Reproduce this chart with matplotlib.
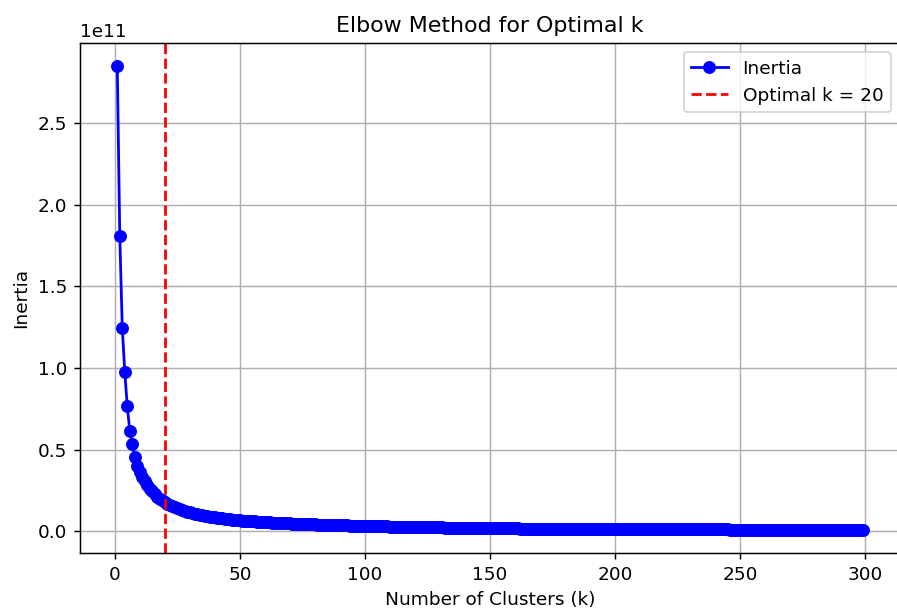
import matplotlib
matplotlib.use("Agg")
import matplotlib.pyplot as plt

# inertia per k, in units of 1e9
inertia_e9 = [
    285, 181, 124.7, 97.5, 76.5, 61.5, 53.5, 45.5, 40.0, 36.5,
    33.0, 30.5, 28.2, 26.0, 24.3, 22.6, 21.2, 19.9, 18.8, 17.7,
    16.8, 16.0, 15.3, 14.6, 14.0, 13.4, 12.9, 12.4, 11.9, 11.5,
    11.1, 10.7, 10.4, 10.0, 9.7, 9.4, 9.2, 8.9, 8.7, 8.4,
    8.2, 8.0, 7.8, 7.6, 7.4, 7.2, 7.1, 6.9, 6.8, 6.6,
    6.5, 6.4, 6.2, 6.1, 6.0, 5.9, 5.8, 5.7, 5.6, 5.5,
    5.4, 5.3, 5.2, 5.2, 5.1, 5.0, 4.9, 4.9, 4.8, 4.7,
    4.6, 4.6, 4.5, 4.4, 4.4, 4.3, 4.3, 4.2, 4.2, 4.1,
    4.0, 4.0, 3.9, 3.9, 3.8, 3.8, 3.7, 3.7, 3.6, 3.6,
    3.5, 3.5, 3.5, 3.4, 3.4, 3.3, 3.3, 3.3, 3.2, 3.2,
    3.1, 3.1, 3.1, 3.0, 3.0, 3.0, 2.9, 2.9, 2.9, 2.8,
    2.8, 2.8, 2.7, 2.7, 2.7, 2.7, 2.6, 2.6, 2.6, 2.5,
    2.5, 2.5, 2.5, 2.4, 2.4, 2.4, 2.4, 2.3, 2.3, 2.3,
    2.3, 2.2, 2.2, 2.2, 2.2, 2.2, 2.1, 2.1, 2.1, 2.1,
    2.0, 2.0, 2.0, 2.0, 2.0, 1.9, 1.9, 1.9, 1.9, 1.9,
    1.8, 1.8, 1.8, 1.8, 1.8, 1.7, 1.7, 1.7, 1.7, 1.7,
    1.7, 1.6, 1.6, 1.6, 1.6, 1.6, 1.6, 1.5, 1.5, 1.5,
    1.5, 1.5, 1.5, 1.5, 1.4, 1.4, 1.4, 1.4, 1.4, 1.4,
    1.4, 1.3, 1.3, 1.3, 1.3, 1.3, 1.3, 1.3, 1.3, 1.2,
    1.2, 1.2, 1.2, 1.2, 1.2, 1.2, 1.2, 1.2, 1.2, 1.2,
    1.2, 1.2, 1.2, 1.1, 1.1, 1.1, 1.1, 1.1, 1.1, 1.1,
    1.1, 1.1, 1.1, 1.1, 1.1, 1.1, 1.1, 1.1, 1.1, 1.1,
    1.1, 1.1, 1.0, 1.0, 1.0, 1.0, 1.0, 1.0, 1.0, 1.0,
    1.0, 1.0, 1.0, 1.0, 1.0, 1.0, 1.0, 1.0, 1.0, 1.0,
    1.0, 1.0, 1.0, 1.0, 1.0, 0.9, 0.9, 0.9, 0.9, 0.9,
    0.9, 0.9, 0.9, 0.9, 0.9, 0.9, 0.9, 0.9, 0.9, 0.9,
    0.9, 0.9, 0.9, 0.9, 0.9, 0.9, 0.9, 0.9, 0.9, 0.9,
    0.8, 0.8, 0.8, 0.8, 0.8, 0.8, 0.8, 0.8, 0.8, 0.8,
    0.8, 0.8, 0.8, 0.8, 0.8, 0.8, 0.8, 0.8, 0.8, 0.8,
    0.8, 0.8, 0.8, 0.8, 0.8, 0.8, 0.8, 0.8, 0.8,
]
k_values = list(range(1, len(inertia_e9) + 1))
optimal_k = 20

DPI = 133


def main():
    inertia = [v * 1e9 for v in inertia_e9]

    fig = plt.figure(figsize=(897 / DPI, 610 / DPI), dpi=DPI)
    # the reference is a crop: the right spine sits at the very edge
    ax = fig.add_axes([80 / 897, 57 / 610, 820 / 897, 510 / 610])

    ax.plot(k_values, inertia, marker='o', color='blue', label='Inertia')
    ax.axvline(x=optimal_k, color='red', linestyle='--',
               label=f'Optimal k = {optimal_k}')
    ax.set_xlabel('Number of Clusters (k)')
    ax.set_ylabel('Inertia')
    ax.set_title('Elbow Method for Optimal k')
    ax.legend()
    ax.grid(True)

    fig.savefig('out.png', dpi=DPI)


if __name__ == "__main__":
    main()
